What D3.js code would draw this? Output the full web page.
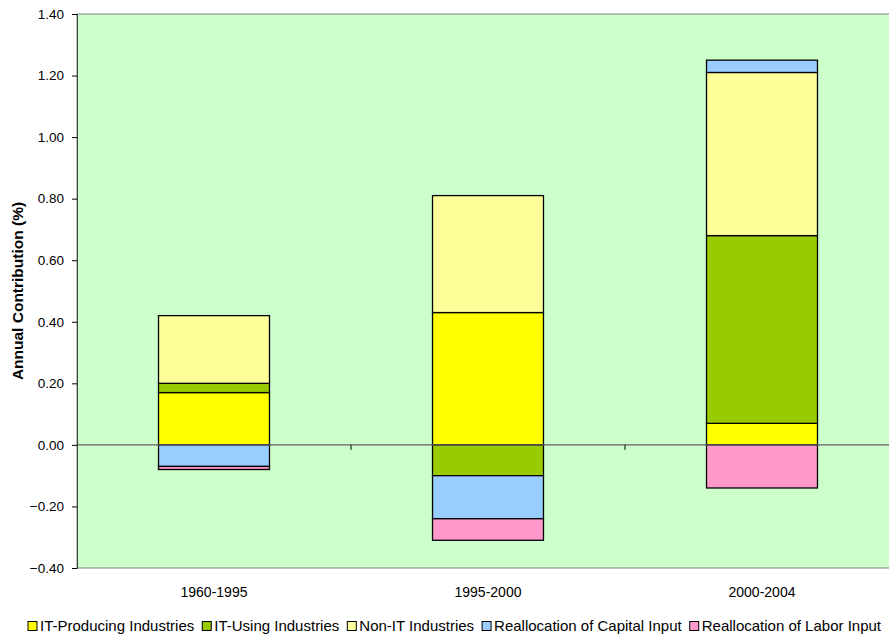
<!DOCTYPE html>
<html>
<head>
<meta charset="utf-8">
<script src="https://cdn.jsdelivr.net/npm/d3@7"></script>
<style>
  body { margin: 0; background: #ffffff; }
  svg { display: block; font-family: "Liberation Sans", Arial, sans-serif; }
</style>
</head>
<body>
<div id="chart"></div>
<script>
// Data
var periods = ["1960-1995", "1995-2000", "2000-2004"];
var seriesNames = ["IT-Producing Industries", "IT-Using Industries", "Non-IT Industries",
                   "Reallocation of Capital Input", "Reallocation of Labor Input"];
var itProducing = [0.17, 0.43, 0.07];
var itUsing = [0.03, -0.10, 0.61];
var nonIT = [0.22, 0.38, 0.53];
var capitalRealloc = [-0.07, -0.14, 0.04];
var laborRealloc = [-0.01, -0.07, -0.14];
var yTicks = [-0.4, -0.2, 0, 0.2, 0.4, 0.6, 0.8, 1.0, 1.2, 1.4];

var colors = ["#FFFF00", "#99CC00", "#FFFF99", "#99CCFF", "#FF99CC"];

var svgWidth = 889, svgHeight = 639;
var margin = { top: 14, left: 77, right: -10, bottom: 71 };
var width = svgWidth - margin.left - margin.right;
var height = svgHeight - margin.top - margin.bottom;

var svg = d3.select("#chart").append("svg")
    .attr("width", svgWidth)
    .attr("height", svgHeight);

var chartGroup = svg.append("g")
    .attr("transform", `translate(${margin.left}, ${margin.top})`);

// build table for stacking
var table = periods.map(function (p, i) {
    return {
        period: p,
        s0: itProducing[i], s1: itUsing[i], s2: nonIT[i], s3: capitalRealloc[i], s4: laborRealloc[i]
    };
});
var stack = d3.stack()
    .keys(["s0", "s1", "s2", "s3", "s4"])
    .offset(d3.stackOffsetDiverging);
var stacked = stack(table);

var x = d3.scaleBand()
    .domain(periods)
    .range([0, width])
    .paddingInner(0.595)
    .paddingOuter(0.2975);

var y = d3.scaleLinear()
    .domain([-0.4, 1.4])
    .range([height, 0]);

// plot background
chartGroup.append("rect")
    .attr("x", 0).attr("y", 0)
    .attr("width", width).attr("height", height)
    .style("fill", "#CCFFCC")
    .style("stroke", "#808080")
    .style("stroke-width", 1);

// bars
chartGroup.append("g")
    .selectAll("g")
    .data(stacked)
    .enter()
    .append("g")
    .style("fill", function (d, i) { return colors[i]; })
    .selectAll("rect")
    .data(function (d) { return d; })
    .enter()
    .append("rect")
    .attr("x", function (d) { return x(d.data.period); })
    .attr("y", function (d) { return y(d[1]); })
    .attr("width", x.bandwidth())
    .attr("height", function (d) { return y(d[0]) - y(d[1]); })
    .style("stroke", "#000000")
    .style("stroke-width", 1.3);

// zero line with category ticks
chartGroup.append("line")
    .attr("x1", 0).attr("x2", width)
    .attr("y1", y(0)).attr("y2", y(0))
    .style("stroke", "#606060")
    .style("stroke-width", 1.3);

var step = x.step();
chartGroup.append("g")
    .selectAll("line")
    .data(d3.range(1, periods.length))
    .enter()
    .append("line")
    .attr("x1", function (d) { return d * step; })
    .attr("x2", function (d) { return d * step; })
    .attr("y1", y(0)).attr("y2", y(0) + 5)
    .style("stroke", "#000000");

// category labels
chartGroup.append("g")
    .selectAll("text")
    .data(periods)
    .enter()
    .append("text")
    .attr("x", function (d) { return x(d) + x.bandwidth() / 2; })
    .attr("y", height + 29)
    .attr("text-anchor", "middle")
    .style("font-size", "14px")
    .text(function (d) { return d; });

// y axis
var yAxis = chartGroup.append("g")
    .call(d3.axisLeft(y).tickValues(yTicks).tickFormat(d3.format(".2f")).tickSize(5).tickPadding(8));
yAxis.select(".domain").style("stroke", "#404040");
yAxis.selectAll("line").style("stroke", "#000");
yAxis.selectAll("text").style("font-size", "13.5px").style("font-family", "Liberation Sans, Arial, sans-serif");

svg.append("text")
    .attr("transform", "translate(23," + (margin.top + y(0.5)) + ") rotate(-90)")
    .attr("text-anchor", "middle")
    .style("font-size", "15.5px")
    .style("font-weight", "bold")
    .text("Annual Contribution (%)");

// legend
var legend = svg.append("g").attr("transform", "translate(28, 626)");
var lx = 0;
seriesNames.forEach(function (name, i) {
    var item = legend.append("g").attr("transform", `translate(${lx},0)`);
    item.append("rect")
        .attr("x", 0).attr("y", -4.5)
        .attr("width", 9).attr("height", 9)
        .style("fill", colors[i])
        .style("stroke", "#000")
        .style("stroke-width", 1);
    var t = item.append("text")
        .attr("x", 12).attr("y", 0)
        .attr("dy", "0.35em")
        .style("font-size", "15px")
        .text(name);
    lx += 12 + t.node().getComputedTextLength() + 8;
});
</script>
</body>
</html>
